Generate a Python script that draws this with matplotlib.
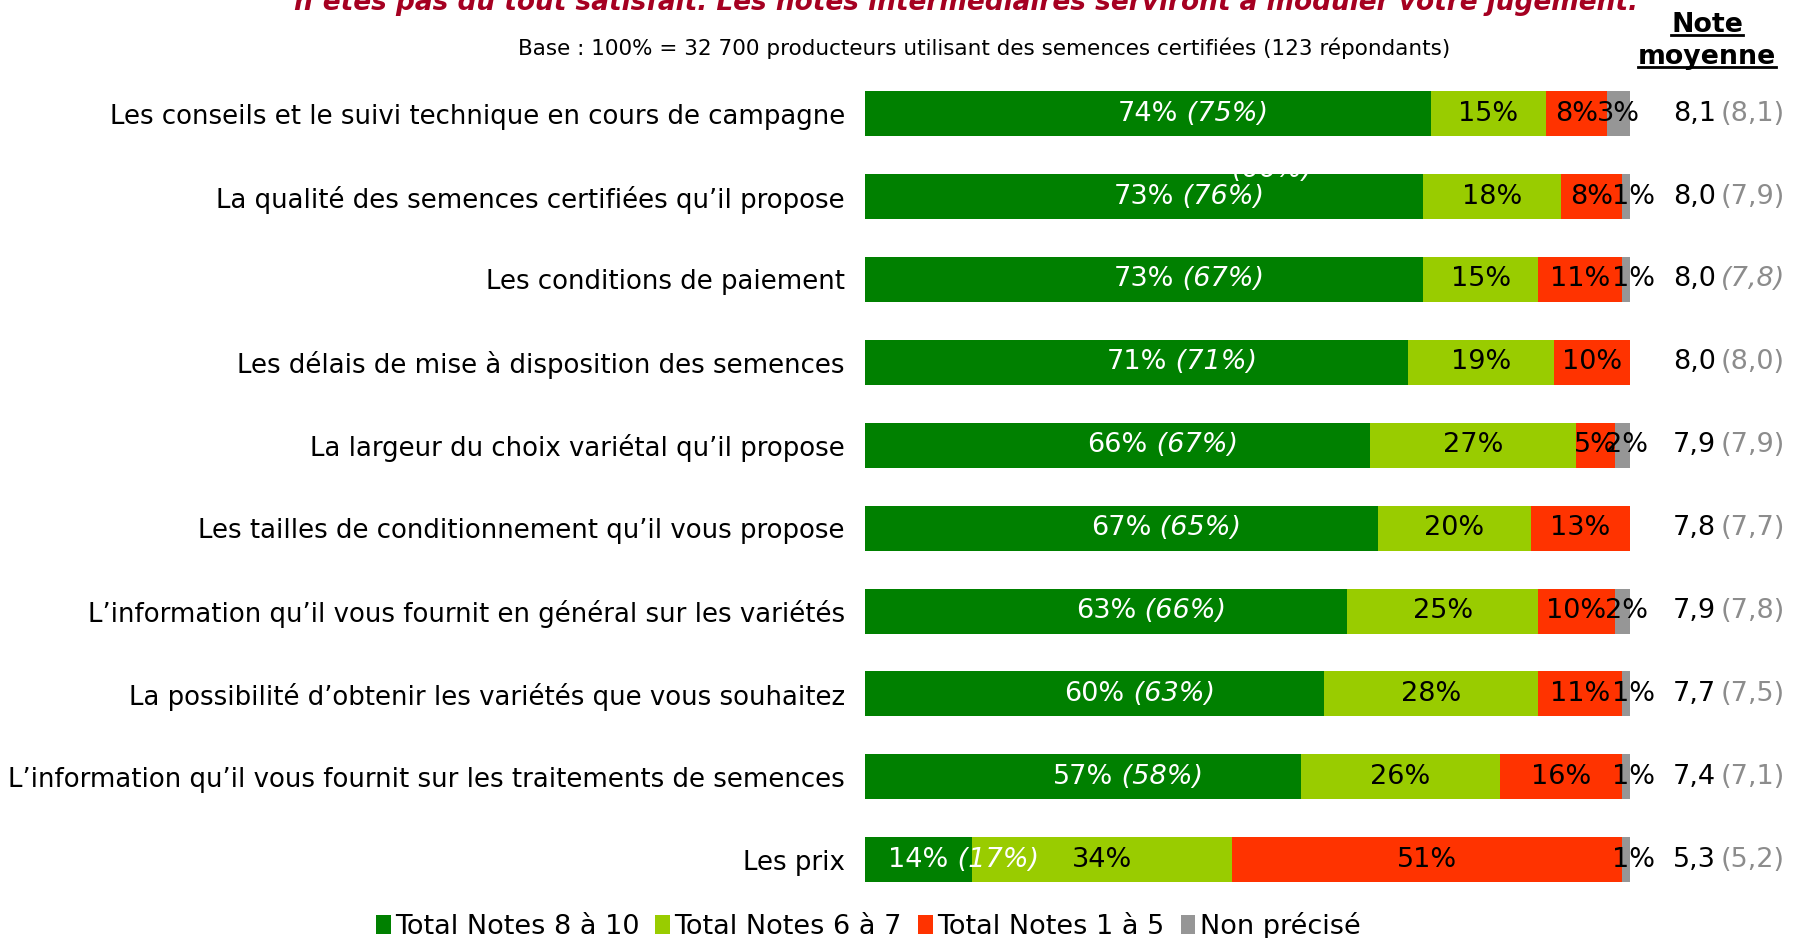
import matplotlib
matplotlib.use("Agg")
import matplotlib.pyplot as plt
import matplotlib.transforms as mtransforms
from matplotlib.patches import Patch
from matplotlib.lines import Line2D

plt.rcParams['font.family'] = ['DejaVu Sans']

# ---------------- data ----------------
categories = [
    "Les conseils et le suivi technique en cours de campagne",
    "La qualité des semences certifiées qu’il propose",
    "Les conditions de paiement",
    "Les délais de mise à disposition des semences",
    "La largeur du choix variétal qu’il propose",
    "Les tailles de conditionnement qu’il vous propose",
    "L’information qu’il vous fournit en général sur les variétés",
    "La possibilité d’obtenir les variétés que vous souhaitez",
    "L’information qu’il vous fournit sur les traitements de semences",
    "Les prix",
]
notes_8_10 = [74, 73, 73, 71, 66, 67, 63, 60, 57, 14]
notes_8_10_prev = [75, 76, 67, 71, 67, 65, 66, 63, 58, 17]
notes_6_7 = [15, 18, 15, 19, 27, 20, 25, 28, 26, 34]
notes_1_5 = [8, 8, 11, 10, 5, 13, 10, 11, 16, 51]
non_precise = [3, 1, 1, 0, 2, 0, 2, 1, 1, 1]
note_moy = [8.1, 8.0, 8.0, 8.0, 7.9, 7.8, 7.9, 7.7, 7.4, 5.3]
note_moy_prev = [8.1, 7.9, 7.8, 8.0, 7.9, 7.7, 7.8, 7.5, 7.1, 5.2]
note_moy_prev_italic = [False, False, True, False, False, False, False, False, False, False]
series_names = ["Total Notes 8 à 10", "Total Notes 6 à 7", "Total Notes 1 à 5", "Non précisé"]

colors = ["#008000", "#99CC00", "#FF3300", "#969696"]
title_text = "n’êtes pas du tout satisfait. Les notes intermédiaires serviront à moduler votre jugement."
base_text = "Base : 100% = 32 700 producteurs utilisant des semences certifiées (123 répondants)"

# ---------------- figure ----------------
W, H = 1796, 938
fig = plt.figure(figsize=(W / 100, H / 100), dpi=100)
ax = fig.add_axes([865 / W, 1 - 901.2 / H, 765 / W, (901.2 - 72.2) / H])
n = len(categories)
ypos = list(range(n))
ax.set_xlim(0, 100)
ax.set_ylim(n - 0.5, -0.5)
bh = 0.543
FS = 19.5

series = [notes_8_10, notes_6_7, notes_1_5, non_precise]
lefts = [0] * n
for s_idx, vals in enumerate(series):
    ax.barh(ypos, vals, left=lefts, height=bh, color=colors[s_idx], edgecolor="none",
            label=series_names[s_idx])
    for i, v in enumerate(vals):
        if v <= 0:
            continue
        cx = lefts[i] + v / 2
        if s_idx == 0:
            t = ax.text(cx, i, f"{v}%", ha="center", va="center", color="white", fontsize=FS)
            ax.annotate(f" ({notes_8_10_prev[i]}%)", xy=(1, 0), xycoords=t, ha="left", va="bottom",
                        color="white", fontsize=FS, style="italic")
        elif s_idx == 3:
            off = 1.0 if v == 1 else (0.5 if v == 2 else 0.0)
            ax.text(cx + off, i, f"{v}%", ha="center", va="center", color="black", fontsize=FS,
                    clip_on=False)
        else:
            ax.text(cx, i, f"{v}%", ha="center", va="center", color="black", fontsize=FS)
    lefts = [lefts[i] + vals[i] for i in range(n)]

# stray white label remnant above row 2
ax.text(58.6, 1 - bh / 2 + 0.03, "(66%)", ha="right", va="baseline", color="white",
        fontsize=FS, style="italic", zorder=5)

ax.set_yticks(ypos, categories)
ax.tick_params(axis="y", length=0, pad=14.5, labelsize=18.7)
ax.set_xticks([])
for sp in ax.spines.values():
    sp.set_visible(False)

# mean notes
for i in range(n):
    ax.text(105.6, i, f"{note_moy[i]:.1f}".replace(".", ","), ha="left", va="center",
            fontsize=FS, color="black", clip_on=False)
    ax.text(111.9, i, "(" + f"{note_moy_prev[i]:.1f}".replace(".", ",") + ")", ha="left",
            va="center", fontsize=FS, color="#8C8C8C", clip_on=False,
            style="italic" if note_moy_prev_italic[i] else "normal")

# header "Note moyenne"
blend = mtransforms.blended_transform_factory(ax.transData, fig.transFigure)
h1 = ax.text(110.1, 1 - 32 / H, "Note", ha="center", va="baseline", fontsize=19.3,
             fontweight="bold", transform=blend, clip_on=False)
h2 = ax.text(110.1, 1 - 64 / H, "moyenne", ha="center", va="baseline", fontsize=19.3,
             fontweight="bold", transform=blend, clip_on=False)

# subtitle and clipped title
fig.text(984 / W, 1 - 48 / H, base_text, ha="center", va="center", fontsize=15.5)
fig.text(966 / W, 1 - 10 / H, title_text, ha="center", va="baseline", fontsize=19,
         fontweight="bold", style="italic", color="#A50021")

# legend
handles = [Patch(facecolor=c, edgecolor="none") for c in colors]
fig.legend(handles, series_names, loc="center", bbox_to_anchor=(868 / W, 1 - 926 / H),
           ncol=4, frameon=False, fontsize=19.5, handlelength=0.55, handleheight=0.65,
           handletextpad=0.15, columnspacing=0.6, borderpad=0, borderaxespad=0)

# underlines for header
fig.canvas.draw()
r = fig.canvas.get_renderer()
for t in (h1, h2):
    bb = t.get_window_extent(renderer=r)
    yb = t.get_transform().transform(t.get_position())[1]
    yl = (yb - 3) / H
    fig.add_artist(Line2D([bb.x0 / W, bb.x1 / W], [yl, yl], transform=fig.transFigure,
                          color="black", lw=2.0))

fig.savefig("out.png", dpi=100)
